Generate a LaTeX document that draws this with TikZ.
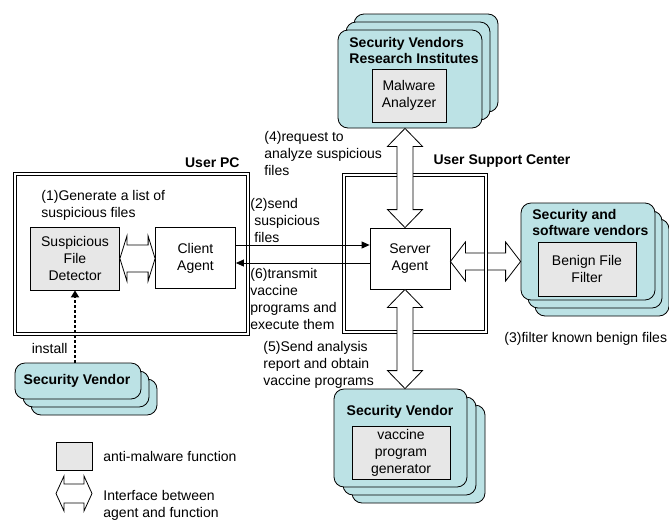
\documentclass[tikz,border=0pt]{standalone}
\usepackage{fontspec}
\setmainfont{Liberation Sans}
\usetikzlibrary{arrows.meta,calc}
\definecolor{vendorteal}{RGB}{188,226,229}
\definecolor{funcgray}{RGB}{231,231,231}
% hollow double-headed interface arrows: from, to, shaft half, head half, head length
\newcommand{\hface}[5]{\draw[iface] let \p1=(#1), \p2=(#2) in (\p1) -- (\x1+#5,\y1+#4) -- (\x1+#5,\y1+#3) -- (\x2-#5,\y2+#3) -- (\x2-#5,\y2+#4) -- (\p2) -- (\x2-#5,\y2-#4) -- (\x2-#5,\y2-#3) -- (\x1+#5,\y1-#3) -- (\x1+#5,\y1-#4) -- cycle;}
\newcommand{\vface}[5]{\draw[iface] let \p1=(#1), \p2=(#2) in (\p1) -- (\x1+#4,\y1-#5) -- (\x1+#3,\y1-#5) -- (\x2+#3,\y2+#5) -- (\x2+#4,\y2+#5) -- (\p2) -- (\x2-#4,\y2+#5) -- (\x2-#3,\y2+#5) -- (\x1-#3,\y1-#5) -- (\x1-#4,\y1-#5) -- cycle;}
\begin{document}
\begin{tikzpicture}[x=1pt, y=-1pt, line width=0.8pt,
	every node/.style={font=\fontsize{14}{17}\selectfont},
	note/.style={inner sep=0pt, align=left},
	title/.style={inner sep=0pt, align=left, font=\fontsize{14}{16}\selectfont\bfseries},
	frame/.style={draw, double, double distance=2pt, line width=1pt, inner sep=0pt},
	vendor/.style={draw, fill=vendorteal, rounded corners=10pt, inner sep=0pt},
	func/.style={draw, fill=funcgray, align=center, inner sep=0pt},
	agent/.style={draw, fill=white, align=center, inner sep=0pt, minimum width=80pt, minimum height=61pt},
	iface/.style={draw, fill=white, line join=miter},
	msg/.style={-{Triangle[length=8pt,width=7pt]}},
	install/.style={-{Triangle[length=7pt,width=8pt]}, line width=2.5pt, dash pattern=on 2.5pt off 2.5pt}]
	\useasboundingbox (0,0) rectangle (669,520);
	% vendor stacks, back to front
	\foreach \k in {2,1,0} \node[vendor, minimum width=144pt, minimum height=98pt] (res\k) at ({410+8*\k},{79-8*\k}) {};
	\foreach \k in {2,1,0} \node[vendor, minimum width=134pt, minimum height=97pt] (sw\k) at ({588+7*\k},{251.5+8*\k}) {};
	\foreach \k in {2,1,0} \node[vendor, minimum width=133pt, minimum height=98pt] (vac\k) at ({400.5+9*\k},{438+8*\k}) {};
	\foreach \k in {2,1,0} \node[vendor, minimum width=126pt, minimum height=36pt] (sv\k) at ({78+8*\k},{381+8*\k}) {};
	\node[title, anchor=west] (reslbl) at (349,50) {Security Vendors\\Research Institutes};
	\node[title, anchor=west] (swlbl) at (532,222) {Security and\\software vendors};
	\node[title] (vaclbl) at (400,412) {Security Vendor};
	\node[title] (svlbl) at (77,381) {Security Vendor};
	\node[func, minimum width=74pt, minimum height=53pt] (mal) at (409,95.5) {Malware\\Analyzer};
	\node[func, minimum width=98pt, minimum height=54pt] (ben) at (587,269) {Benign File\\Filter};
	\node[func, minimum width=98pt, minimum height=53pt] (gen) at (401,452.5) {vaccine\\program\\generator};
	\node[func, minimum width=89pt, minimum height=63pt] (det) at (75,258.5) {Suspicious\\File\\Detector};
	\node[agent] (client) at (195.5,258) {Client\\Agent};
	\node[agent] (srv) at (410,258.5) {Server\\Agent};
	\hface{[yshift=-3pt]srv.east}{[yshift=-3pt]srv.east -| sw0.west}{8.5pt}{19.5pt}{15pt}
	% frames
	\node[frame, minimum width=233pt, minimum height=160pt] (pc) at (131,253.5) {};
	\node[frame, minimum width=142pt, minimum height=157pt] (usc) at (414.5,253) {};
	\node[title, anchor=east] (pclbl) at (240,163) {User PC};
	\node[title] (usclbl) at (502,161) {User Support Center};
	% interfaces
	\hface{det.east}{det.east -| client.west}{13.5pt}{22.5pt}{7pt}
	\vface{[xshift=-5pt]srv.north |- res0.south}{[xshift=-5pt]srv.north}{8pt}{17.5pt}{18pt}
	\vface{[xshift=-5pt]srv.south}{[xshift=-5pt]srv.south |- vac0.north}{8pt}{17.5pt}{18pt}
	% messages
	\draw[msg] ([yshift=13pt]client.east) -- ([yshift=13pt]client.east -| srv.west);
	\draw[msg] ([yshift=-4.5pt]srv.west) -- ([yshift=-4.5pt]srv.west -| client.east);
	\draw[install] (det.south |- sv0.north) -- (det.south);
	\node[note, anchor=east] (instlbl) at (68,348) {install};
	\node[note, anchor=west] (s1) at (41,205.5) {(1)Generate a list of\\suspicious files};
	\node[note, anchor=west] (s2) at (250,220) {(2)send\\\hspace*{4pt}suspicious\\\hspace*{4pt}files};
	\node[note, anchor=west] (s3) at (504,339) {(3)filter known benign files};
	\node[note, anchor=west] (s4) at (264,153) {(4)request to\\analyze suspicious\\files};
	\node[note, anchor=west] (s5) at (263,364.5) {(5)Send analysis\\report and obtain\\vaccine programs};
	\node[note, anchor=west] (s6) at (250,298.5) {(6)transmit\\vaccine\\programs and\\execute them};
	% legend
	\node[func, minimum width=36pt, minimum height=28pt] (legfunc) at (74,456) {};
	\node[note, anchor=west] (legfunclbl) at (103,456) {anti-malware function};
	\coordinate (legA) at (56,493.5);
	\coordinate (legB) at (92,493.5);
	\hface{legA}{legB}{9.5pt}{17.5pt}{8pt}
	\node[note, anchor=west] (legfacelbl) at (103,505) {Interface between\\agent and function};
\end{tikzpicture}
\end{document}
